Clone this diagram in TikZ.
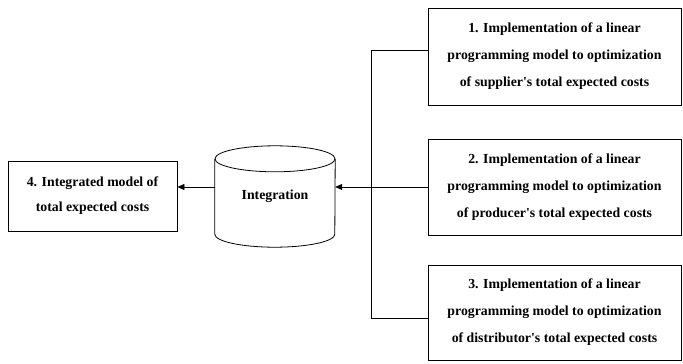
\documentclass[tikz,border=0pt]{standalone}
\usepackage{fontspec}
\setmainfont{Liberation Serif}
\usetikzlibrary{arrows.meta}
\tikzset{
  every node/.style={font=\bfseries\fontsize{13.8}{27}\selectfont, align=center, inner sep=0pt},
  box/.style={draw, line width=0.8pt, minimum width=253pt, minimum height=96pt},
  wire/.style={line width=0.7pt},
  arr/.style={wire, -{Triangle[length=7pt,width=6pt]}}
}
\begin{document}
\begin{tikzpicture}[x=1pt,y=-1pt]
\useasboundingbox (0,0) rectangle (683,364);
\node[box, minimum height=97pt] (b1) at (554.5,56.5) {1. Implementation of a linear\\programming model to optimization\\of supplier\textquotesingle s total expected costs};
\node[box] (b2) at (554.5,187) {2. Implementation of a linear\\programming model to optimization\\of producer\textquotesingle s total expected costs};
\node[box, minimum height=95pt] (b3) at (554.5,312.5) {3. Implementation of a linear\\programming model to optimization\\of distributor\textquotesingle s total expected costs};
\node[box, minimum width=169pt, minimum height=70pt, font=\bfseries\fontsize{13.8}{25}\selectfont] (b4) at (92.5,196) {4. Integrated model of\\total expected costs};
\node[minimum width=120pt, minimum height=101pt] (cyl) at (275,196.5) {\raisebox{-4pt}{Integration}};
% cylinder outline
\draw[line width=0.8pt] ([yshift=-13pt]cyl.north) ellipse[x radius=60pt, y radius=13pt];
\draw[line width=0.8pt] ([yshift=-13pt]cyl.north west) -- ([yshift=13pt]cyl.south west)
  arc[start angle=180, end angle=360, x radius=60pt, y radius=13pt]
  -- ([yshift=-13pt]cyl.north east);
% connectors
\coordinate (j1) at (371,50);
\coordinate (j3) at (371,318);
\draw[wire] (b1.west |- j1) -- (j1) -- (j3) -- (b3.west |- j3);
\draw[arr] (b2.west) -- (b2.west -| cyl.east);
\draw[arr] (cyl.west |- b2.west) -- (b4.east |- b2.west);
\end{tikzpicture}
\end{document}
